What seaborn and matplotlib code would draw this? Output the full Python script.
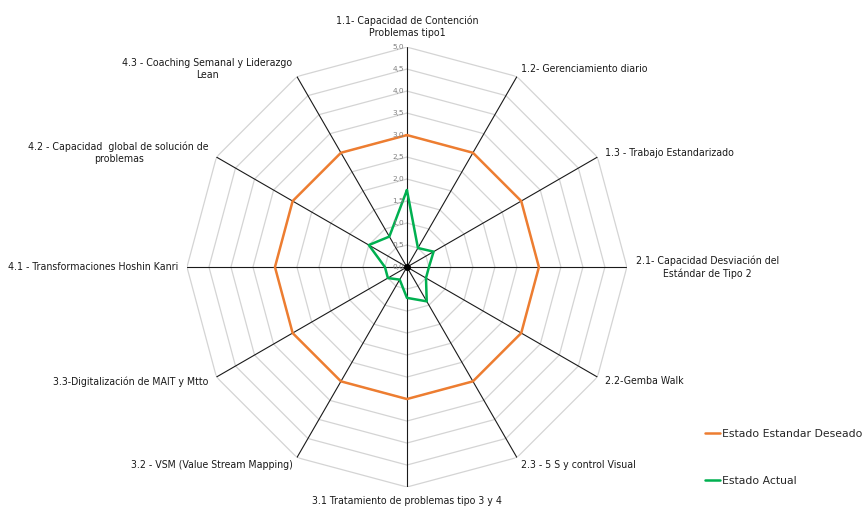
import numpy as np
import pandas as pd
import matplotlib
matplotlib.use("Agg")
import matplotlib.pyplot as plt
import seaborn as sns

categories = [
    "1.1- Capacidad de Contención\nProblemas tipo1",
    "1.2- Gerenciamiento diario",
    "1.3 - Trabajo Estandarizado",
    "2.1- Capacidad Desviación del\nEstándar de Tipo 2",
    "2.2-Gemba Walk",
    "2.3 - 5 S y control Visual",
    "3.1 Tratamiento de problemas tipo 3 y 4",
    "3.2 - VSM (Value Stream Mapping)",
    "3.3-Digitalización de MAIT y Mtto",
    "4.1 - Transformaciones Hoshin Kanri",
    "4.2 - Capacidad  global de solución de\nproblemas",
    "4.3 - Coaching Semanal y Liderazgo\nLean",
]
estado_deseado = [3.0, 3.0, 3.0, 3.0, 3.0, 3.0, 3.0, 3.0, 3.0, 3.0, 3.0, 3.0]
estado_actual = [1.75, 0.5, 0.7, 0.5, 0.5, 0.9, 0.7, 0.33, 0.5, 0.5, 1.0, 0.8]
series_names = ["Estado Estandar Deseado", "Estado Actual"]
series_colors = ["#ED7D31", "#00B050"]
tick_values = [0.0, 0.5, 1.0, 1.5, 2.0, 2.5, 3.0, 3.5, 4.0, 4.5, 5.0]

sns.set_theme(style="white")
plt.rcParams["font.family"] = ["DejaVu Sans"]

n = len(categories)
angles = np.linspace(0, 2 * np.pi, n, endpoint=False)
closed = np.append(angles, 2 * np.pi)

rows = []
for name, vals in zip(series_names, [estado_deseado, estado_actual]):
    for a, v in zip(closed, list(vals) + [vals[0]]):
        rows.append({"angle": a, "valor": v, "serie": name})
df = pd.DataFrame(rows)

fig = plt.figure(figsize=(8.66, 5.08), dpi=100)
ax = fig.add_axes([0.2159, 0.0413, 0.508, 0.866], projection="polar")
ax.set_theta_offset(np.pi / 2)
ax.set_theta_direction(-1)
ax.set_ylim(0, 5)
ax.grid(False)
ax.set_xticks([])
ax.set_yticks([])
ax.spines["polar"].set_visible(False)
ax.set_facecolor("none")

# polygon grid rings
for r in tick_values[1:]:
    ax.plot(closed, [r] * len(closed), color="#d4d4d4", lw=0.9, zorder=1)
# spokes
for a in angles:
    ax.plot([a, a], [0, 5], color="#1a1a1a", lw=0.8, zorder=2)

sns.lineplot(data=df, x="angle", y="valor", hue="serie", palette=series_colors,
             sort=False, estimator=None, lw=1.8, ax=ax, zorder=3, legend=False)
ax.plot([0], [0], "o", color="black", ms=4, zorder=4)

for r in tick_values:
    ax.annotate(f"{r:.1f}".replace(".", ","), xy=(0, r), xytext=(-2, 0),
                textcoords="offset points", ha="right", va="center",
                fontsize=5.3, color="#7f7f7f")

for a, lab in zip(angles, categories):
    s = np.sin(a)
    c = np.cos(a)
    if abs(s) < 1e-6:
        ha = "center"
        va = "bottom" if c > 0 else "top"
    else:
        ha = "left" if s > 0 else "right"
        va = "center"
    ax.text(a, 5.2, lab, ha=ha, va=va, multialignment="center",
            fontsize=7.6, fontstretch="condensed", color="#1a1a1a",
            linespacing=1.3)

ax.set_xlabel("")
ax.set_ylabel("")

handles = [plt.Line2D([], [], color=col, lw=1.8) for col in series_colors]
fig.legend(handles, series_names, loc="center left", bbox_to_anchor=(0.803, 0.1),
           frameon=False, labelspacing=3.4, handlelength=1.4, handletextpad=0.15,
           prop={"size": 7.8})

fig.savefig("out.png", dpi=100)
